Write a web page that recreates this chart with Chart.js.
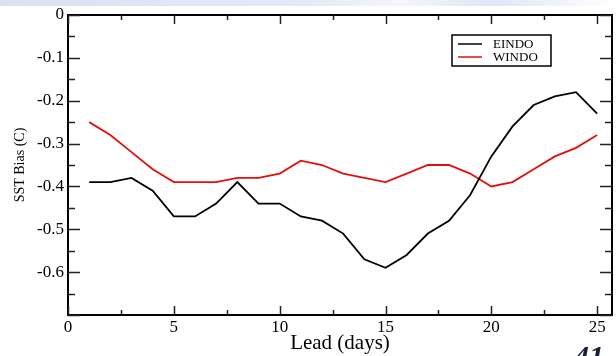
<!DOCTYPE html>
<html>
<head>
<meta charset="utf-8">
<script src="https://cdn.jsdelivr.net/npm/chart.js@4.4.1/dist/chart.umd.min.js"></script>
<style>
  html, body { margin: 0; padding: 0; background: #fff; }
  #wrap { position: relative; width: 616px; height: 356px; overflow: hidden; }
  #band { position: absolute; left: 0; top: 0; width: 616px; height: 6px;
          background: linear-gradient(90deg, #d9e2f3 0%, #e4eaf6 50%, #f4f6fb 65%, #dfe6f4 80%, #fff 100%); }
  #sstChart { position: absolute; left: 0; top: 0; }
  #pageNo { position: absolute; left: 574px; top: 339px; font: bold italic 30px "Liberation Serif", serif; color: #1a1f3a; }
</style>
</head>
<body>
<div id="wrap">
  <div id="band"></div>
  <canvas id="sstChart" width="616" height="356"></canvas>
  <div id="pageNo">41</div>
</div>
<script>
// Lead days and SST bias
const leadDays = [1, 2, 3, 4, 5, 6, 7, 8, 9, 10, 11, 12, 13, 14, 15, 16, 17, 18, 19, 20, 21, 22, 23, 24, 25];
const eindo = [-0.39, -0.39, -0.38, -0.41, -0.47, -0.47, -0.44, -0.39, -0.44, -0.44, -0.47, -0.48, -0.51,
               -0.57, -0.59, -0.56, -0.51, -0.48, -0.42, -0.33, -0.26, -0.21, -0.19, -0.18, -0.23];
const windo = [-0.25, -0.28, -0.32, -0.36, -0.39, -0.39, -0.39, -0.38, -0.38, -0.37, -0.34, -0.35, -0.37,
               -0.38, -0.39, -0.37, -0.35, -0.35, -0.37, -0.40, -0.39, -0.36, -0.33, -0.31, -0.28];
const xTicks = [0, 5, 10, 15, 20, 25];
const yTicks = [0, -0.1, -0.2, -0.3, -0.4, -0.5, -0.6];

const serif = '"Liberation Serif", "Times New Roman", serif';

// white plot box (page background shows only outside it)
const bgPlugin = {
  id: "bg",
  beforeDraw(chart) {
    const c = chart.ctx;
    c.save();
    c.fillStyle = "#fff";
    c.fillRect(0, 6, chart.width, chart.height - 6);
    c.restore();
  }
};

// frame with inward ticks plus the boxed legend, like the original xmgrace plot
const framePlugin = {
  id: "frame",
  afterDraw(chart) {
    const ctx = chart.ctx;
    const a = chart.chartArea;
    const xs = chart.scales.x, ys = chart.scales.y;
    ctx.save();
    ctx.strokeStyle = "#000";
    ctx.lineWidth = 2;
    ctx.strokeRect(a.left, a.top, a.right - a.left, a.bottom - a.top);

    ctx.lineWidth = 1.5;
    ctx.strokeStyle = "#222";
    ctx.beginPath();
    for (let v = 0; v <= xs.max; v += 2.5) {
      const px = Math.round(xs.getPixelForValue(v)) + 0.5;
      const len = v % 5 === 0 ? 9 : 5;
      ctx.moveTo(px, a.bottom); ctx.lineTo(px, a.bottom - len);
      ctx.moveTo(px, a.top); ctx.lineTo(px, a.top + len);
    }
    for (let i = 0; i <= 14; i++) {
      const v = -i * 0.05;
      const py = Math.round(ys.getPixelForValue(v)) + 0.5;
      const len = i % 2 === 0 ? 12 : 7;
      ctx.moveTo(a.left, py); ctx.lineTo(a.left + len, py);
      ctx.moveTo(a.right, py); ctx.lineTo(a.right - len, py);
    }
    ctx.stroke();

    // legend
    const bx = 452, by = 35, bw = 99, bh = 31;
    ctx.fillStyle = "#fff";
    ctx.fillRect(bx, by, bw, bh);
    ctx.lineWidth = 1.5;
    ctx.strokeStyle = "#000";
    ctx.strokeRect(bx, by, bw, bh);
    ctx.font = "13px " + serif;
    ctx.textBaseline = "middle";
    chart.data.datasets.forEach((ds, i) => {
      const ly = by + 9 + i * 13;
      ctx.strokeStyle = ds.borderColor;
      ctx.lineWidth = 1.5;
      ctx.beginPath();
      ctx.moveTo(bx + 6, ly); ctx.lineTo(bx + 30, ly);
      ctx.stroke();
      ctx.fillStyle = "#000";
      ctx.fillText(ds.label, bx + 41, ly + 1);
    });
    ctx.restore();
  }
};

const ctx = document.getElementById("sstChart").getContext("2d");
new Chart(ctx, {
  type: "line",
  data: {
    labels: leadDays,
    datasets: [
      { label: "EINDO", data: leadDays.map((d, i) => ({ x: d, y: eindo[i] })),
        borderColor: "#000000", borderWidth: 1.8, pointRadius: 0, tension: 0, fill: false },
      { label: "WINDO", data: leadDays.map((d, i) => ({ x: d, y: windo[i] })),
        borderColor: "#e01010", borderWidth: 1.8, pointRadius: 0, tension: 0, fill: false }
    ]
  },
  options: {
    responsive: false,
    animation: false,
    events: [],
    layout: { padding: { top: 15, right: 4, left: 0, bottom: 0 } },
    plugins: { legend: { display: false }, tooltip: { enabled: false } },
    scales: {
      x: {
        type: "linear",
        min: 0,
        max: 25.7,
        afterBuildTicks: s => { s.ticks = xTicks.map(v => ({ value: v })); },
        afterFit: s => { s.height = 41; },
        grid: { display: false, drawTicks: false },
        border: { display: false },
        ticks: { color: "#000", font: { family: serif, size: 17 }, padding: 2, maxRotation: 0 },
        title: { display: true, text: "Lead (days)", color: "#000",
                 font: { family: serif, size: 21 }, padding: { top: 0, bottom: 0 } }
      },
      y: {
        min: -0.7,
        max: 0,
        afterBuildTicks: s => { s.ticks = yTicks.map(v => ({ value: v })); },
        afterFit: s => { s.width = 68; },
        grid: { display: false, drawTicks: false },
        border: { display: false },
        ticks: { color: "#000", font: { family: serif, size: 17 }, padding: 4,
                 callback: v => v === 0 ? "0" : v.toFixed(1) },
        title: { display: true, text: "SST Bias (C)", color: "#000",
                 font: { family: serif, size: 14 }, padding: { top: 12, bottom: 0 } }
      }
    }
  },
  plugins: [bgPlugin, framePlugin]
});
</script>
</body>
</html>
